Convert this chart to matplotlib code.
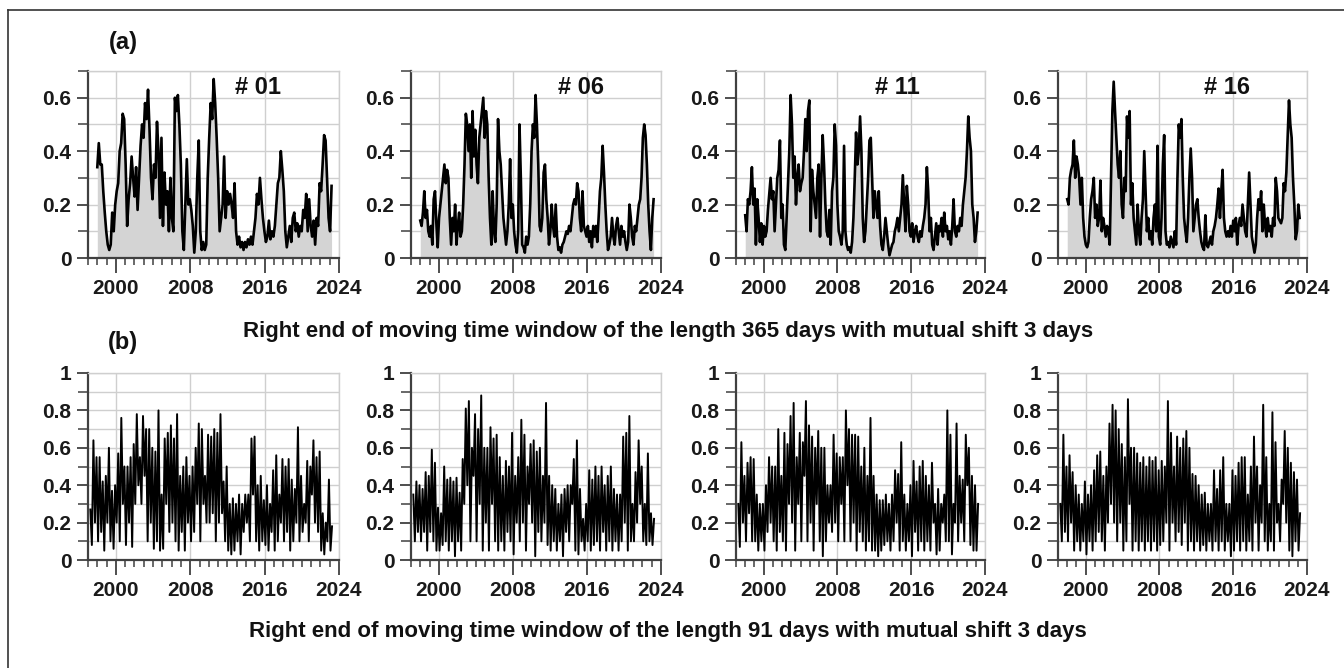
import numpy as np
import matplotlib
matplotlib.use('Agg')
import matplotlib.pyplot as plt
from matplotlib.lines import Line2D
from matplotlib.ticker import MultipleLocator

plt.rcParams['font.family'] = ['Liberation Sans', 'DejaVu Sans']

# labels
PANEL_TAGS = ['# 01', '# 06', '# 11', '# 16']
CAPTION_A = 'Right end of moving time window of the length 365 days with mutual shift 3 days'
CAPTION_B = 'Right end of moving time window of the length 91 days with mutual shift 3 days'
YEAR_TICKS = [2000, 2008, 2016, 2024]

# (a) 365-day window, right ends from 1998.0 to 2023.2
A_START, A_END = 1998.0, 2023.2
a01 = [0.34, 0.43, 0.35, 0.35, 0.25, 0.17, 0.1, 0.05, 0.03, 0.05, 0.17, 0.1, 0.2, 0.25,
       0.28, 0.4, 0.43, 0.54, 0.52, 0.35, 0.12, 0.22, 0.28, 0.38, 0.3, 0.23, 0.34, 0.18,
       0.3, 0.42, 0.5, 0.45, 0.58, 0.52, 0.63, 0.48, 0.3, 0.22, 0.35, 0.3, 0.51, 0.4, 0.15,
       0.45, 0.12, 0.32, 0.2, 0.25, 0.1, 0.3, 0.15, 0.1, 0.6, 0.55, 0.61, 0.5, 0.35, 0.1,
       0.03, 0.2, 0.37, 0.2, 0.22, 0.18, 0.12, 0.02, 0.1, 0.3, 0.44, 0.1, 0.03, 0.06, 0.03,
       0.05, 0.3, 0.45, 0.58, 0.52, 0.67,
       0.58, 0.45, 0.3, 0.1, 0.15, 0.2, 0.38, 0.15, 0.25, 0.2, 0.24, 0.2, 0.15, 0.28, 0.1,
       0.05, 0.08, 0.04, 0.06, 0.03, 0.06, 0.04, 0.07, 0.05, 0.08, 0.05, 0.1, 0.15, 0.24,
       0.2, 0.3, 0.22, 0.15, 0.1, 0.06, 0.08, 0.14, 0.07, 0.1, 0.08, 0.12, 0.2, 0.28, 0.3,
       0.4, 0.33, 0.25, 0.1, 0.04, 0.08, 0.12, 0.06, 0.15, 0.17, 0.1, 0.13, 0.08, 0.12, 0.1,
       0.18, 0.15, 0.24, 0.1, 0.22, 0.12, 0.08, 0.14, 0.05, 0.15, 0.12, 0.28, 0.25, 0.35,
       0.46, 0.44, 0.3, 0.15, 0.1, 0.27]
a06 = [0.14, 0.12, 0.17, 0.25, 0.15, 0.18, 0.1, 0.08, 0.12, 0.05, 0.22, 0.25, 0.13, 0.04,
       0.15, 0.2, 0.25, 0.3, 0.35, 0.28, 0.33, 0.3, 0.15, 0.05, 0.15, 0.1, 0.2, 0.05, 0.12,
       0.17, 0.08, 0.1, 0.2, 0.35, 0.54, 0.5, 0.4, 0.5, 0.3, 0.55, 0.38, 0.48, 0.35, 0.28,
       0.45, 0.5, 0.55, 0.6, 0.45, 0.55, 0.5, 0.3, 0.15, 0.05, 0.25, 0.1, 0.06, 0.2, 0.52,
       0.4, 0.35, 0.25, 0.15, 0.1, 0.05, 0.1, 0.2, 0.37, 0.15, 0.2, 0.1, 0.05, 0.02, 0.1,
       0.5, 0.3, 0.05, 0.04, 0.02, 0.08, 0.05, 0.08, 0.2, 0.4, 0.5, 0.45, 0.61, 0.5, 0.35,
       0.12, 0.1, 0.15, 0.32, 0.35, 0.22, 0.15, 0.05, 0.1, 0.2, 0.12, 0.08, 0.2, 0.08, 0.03,
       0.04, 0.02, 0.05, 0.06, 0.08, 0.1, 0.09, 0.12, 0.1, 0.15, 0.2, 0.22, 0.2, 0.28, 0.25,
       0.15, 0.1, 0.25, 0.12, 0.1, 0.08, 0.12, 0.06, 0.1, 0.04, 0.12, 0.08, 0.12, 0.06, 0.15,
       0.25, 0.3, 0.42, 0.32, 0.2, 0.1, 0.03, 0.05, 0.08, 0.15, 0.08, 0.05, 0.12, 0.15, 0.1,
       0.05, 0.12, 0.08, 0.1, 0.06, 0.03, 0.06, 0.2, 0.15, 0.08, 0.05, 0.12, 0.1, 0.15, 0.2,
       0.22, 0.3, 0.45, 0.5, 0.46, 0.35, 0.2, 0.1, 0.03, 0.15, 0.22]
a11 = [0.16, 0.1, 0.22, 0.2, 0.25, 0.34, 0.2, 0.26, 0.05, 0.22, 0.15, 0.06, 0.13, 0.05,
       0.12, 0.08, 0.1, 0.18, 0.24, 0.3, 0.22, 0.25, 0.1, 0.2, 0.3, 0.33, 0.44, 0.15, 0.2,
       0.05, 0.03, 0.15, 0.28, 0.4, 0.61, 0.5, 0.3, 0.38, 0.2, 0.3, 0.35, 0.25, 0.28, 0.3,
       0.4, 0.52, 0.4, 0.55, 0.59, 0.1, 0.33, 0.25, 0.2, 0.15, 0.3, 0.35, 0.08, 0.3, 0.46,
       0.35, 0.2, 0.1, 0.08, 0.18, 0.05, 0.25, 0.3, 0.5, 0.42, 0.2, 0.1, 0.08, 0.05, 0.1,
       0.42, 0.1, 0.05, 0.03, 0.04, 0.02, 0.06, 0.15, 0.3, 0.47, 0.35, 0.4, 0.53, 0.4, 0.15,
       0.06, 0.1, 0.2, 0.3, 0.44, 0.45, 0.3, 0.15, 0.25, 0.2, 0.15, 0.25, 0.12, 0.05, 0.03,
       0.08, 0.15, 0.1, 0.05, 0.01, 0.03, 0.05, 0.06, 0.1, 0.12, 0.15, 0.1, 0.15, 0.2, 0.31,
       0.2, 0.1, 0.27, 0.2, 0.1, 0.08, 0.13, 0.06, 0.1, 0.12, 0.08, 0.06, 0.1, 0.08, 0.12,
       0.15, 0.2, 0.34, 0.25, 0.1, 0.15, 0.05, 0.03, 0.08, 0.13, 0.05, 0.12, 0.1, 0.15, 0.08,
       0.17, 0.1, 0.12, 0.07, 0.1, 0.05, 0.12, 0.22, 0.1, 0.08, 0.12, 0.1, 0.15, 0.12, 0.2,
       0.25, 0.3, 0.4, 0.53, 0.45, 0.4, 0.2, 0.15, 0.06, 0.1, 0.17]
a16 = [0.22, 0.2, 0.3, 0.33, 0.35, 0.44, 0.3, 0.38, 0.35, 0.3, 0.2, 0.3, 0.15, 0.08, 0.05,
       0.04, 0.06, 0.15, 0.22, 0.25, 0.3, 0.15, 0.2, 0.12, 0.15, 0.29, 0.1, 0.15, 0.12, 0.08,
       0.12, 0.1, 0.05, 0.3, 0.55, 0.66, 0.55, 0.45, 0.35, 0.3, 0.4, 0.2, 0.15, 0.3, 0.25,
       0.53, 0.45, 0.55, 0.2, 0.28, 0.15, 0.1, 0.05, 0.2, 0.1, 0.05, 0.15, 0.22, 0.4, 0.25,
       0.1, 0.15, 0.07, 0.1, 0.05, 0.15, 0.2, 0.1, 0.42, 0.08, 0.05, 0.15, 0.35, 0.46, 0.1,
       0.05, 0.06, 0.04, 0.08, 0.06, 0.04, 0.1, 0.05, 0.3, 0.5, 0.45, 0.52, 0.3, 0.15, 0.1,
       0.06, 0.15, 0.3, 0.41, 0.3, 0.1, 0.15, 0.2, 0.22, 0.15, 0.1, 0.06, 0.04, 0.03, 0.16,
       0.05, 0.04, 0.06, 0.08, 0.05, 0.1, 0.12, 0.15, 0.2, 0.26, 0.15, 0.25, 0.33, 0.15, 0.1,
       0.08, 0.1, 0.08, 0.12, 0.08, 0.14, 0.1, 0.15, 0.05, 0.12, 0.15, 0.12, 0.2, 0.15, 0.1,
       0.08, 0.2, 0.32, 0.2, 0.08, 0.05, 0.02, 0.05, 0.15, 0.22, 0.18, 0.25, 0.1, 0.2, 0.12,
       0.08, 0.15, 0.1, 0.12, 0.08, 0.15, 0.12, 0.3, 0.25, 0.15, 0.14, 0.13, 0.15, 0.28, 0.25,
       0.32, 0.45, 0.59, 0.5, 0.45, 0.3, 0.2, 0.07, 0.1, 0.2, 0.15]

# (b) 91-day window, right ends from 1997.25 to 2023.25 (6 samples per year)
B_START, B_END = 1997.25, 2023.25
b01 = [0.27, 0.08, 0.64, 0.2, 0.55,
       0.1, 0.55, 0.15, 0.42, 0.05, 0.45,
       0.2, 0.6, 0.1, 0.37, 0.06, 0.4,
       0.2, 0.57, 0.1, 0.76, 0.3, 0.5,
       0.08, 0.5, 0.2, 0.55, 0.07, 0.62,
       0.3, 0.78, 0.4, 0.55, 0.3, 0.77,
       0.45, 0.7, 0.1, 0.7, 0.2, 0.6,
       0.06, 0.58, 0.1, 0.8, 0.05, 0.35,
       0.06, 0.65, 0.3, 0.68, 0.15, 0.72,
       0.2, 0.65, 0.1, 0.78, 0.05, 0.45,
       0.15, 0.5, 0.05, 0.55, 0.2, 0.45,
       0.1, 0.5, 0.15, 0.6, 0.3, 0.73,
       0.1, 0.7, 0.3, 0.45, 0.2, 0.67,
       0.2, 0.66, 0.25, 0.7, 0.1, 0.68,
       0.2, 0.78, 0.25, 0.42, 0.1, 0.5,
       0.05, 0.3, 0.03, 0.33, 0.05, 0.3,
       0.1, 0.35, 0.03, 0.3, 0.15, 0.35,
       0.2, 0.35, 0.1, 0.65, 0.35, 0.66,
       0.1, 0.4, 0.05, 0.45, 0.1, 0.32,
       0.08, 0.4, 0.05, 0.3, 0.15, 0.48,
       0.05, 0.56, 0.1, 0.35, 0.2, 0.54,
       0.1, 0.5, 0.15, 0.54, 0.05, 0.43,
       0.1, 0.38, 0.2, 0.71, 0.1, 0.45,
       0.15, 0.3, 0.2, 0.53, 0.1, 0.5,
       0.35, 0.64, 0.2, 0.55, 0.15, 0.58,
       0.05, 0.25, 0.03, 0.2, 0.1, 0.43,
       0.05, 0.18]
b06 = [0.35, 0.1, 0.42, 0.15, 0.4,
       0.1, 0.38, 0.15, 0.47, 0.05, 0.45,
       0.15, 0.59, 0.1, 0.52, 0.05, 0.28,
       0.05, 0.25, 0.08, 0.5, 0.1, 0.43,
       0.05, 0.44, 0.1, 0.42, 0.02, 0.44,
       0.1, 0.36, 0.05, 0.54, 0.3, 0.81,
       0.4, 0.85, 0.1, 0.6, 0.45, 0.78,
       0.1, 0.7, 0.3, 0.88, 0.05, 0.6,
       0.2, 0.6, 0.05, 0.71, 0.3, 0.65,
       0.1, 0.67, 0.05, 0.55, 0.1, 0.45,
       0.05, 0.53, 0.15, 0.5, 0.1, 0.68,
       0.03, 0.45, 0.2, 0.55, 0.1, 0.75,
       0.2, 0.67, 0.05, 0.5, 0.3, 0.62,
       0.2, 0.64, 0.02, 0.58, 0.15, 0.6,
       0.1, 0.45, 0.2, 0.84, 0.08, 0.45,
       0.05, 0.4, 0.1, 0.38, 0.05, 0.3,
       0.1, 0.35, 0.02, 0.38, 0.15, 0.4,
       0.1, 0.4, 0.3, 0.54, 0.05, 0.64,
       0.03, 0.38, 0.1, 0.22, 0.05, 0.3,
       0.1, 0.48, 0.05, 0.43, 0.08, 0.5,
       0.1, 0.45, 0.05, 0.5, 0.15, 0.4,
       0.05, 0.45, 0.1, 0.5, 0.05, 0.38,
       0.1, 0.35, 0.05, 0.35, 0.1, 0.66,
       0.2, 0.68, 0.05, 0.77, 0.1, 0.3,
       0.1, 0.47, 0.2, 0.64, 0.3, 0.5,
       0.1, 0.3, 0.08, 0.57, 0.1, 0.25,
       0.08, 0.22]
b11 = [0.3, 0.07, 0.63, 0.2, 0.45,
       0.1, 0.52, 0.25, 0.55, 0.1, 0.54,
       0.1, 0.35, 0.05, 0.3, 0.1, 0.3,
       0.05, 0.4, 0.15, 0.55, 0.2, 0.5,
       0.1, 0.5, 0.05, 0.7, 0.15, 0.45,
       0.1, 0.68, 0.05, 0.62, 0.3, 0.77,
       0.2, 0.84, 0.05, 0.55, 0.3, 0.68,
       0.1, 0.63, 0.45, 0.85, 0.1, 0.72,
       0.2, 0.66, 0.05, 0.6, 0.3, 0.69,
       0.1, 0.6, 0.02, 0.6, 0.1, 0.4,
       0.2, 0.4, 0.15, 0.67, 0.2, 0.57,
       0.1, 0.55, 0.3, 0.55, 0.1, 0.8,
       0.4, 0.7, 0.1, 0.67, 0.2, 0.67,
       0.05, 0.66, 0.15, 0.5, 0.1, 0.6,
       0.05, 0.45, 0.1, 0.76, 0.05, 0.45,
       0.05, 0.35, 0.02, 0.32, 0.05, 0.32,
       0.08, 0.35, 0.1, 0.3, 0.05, 0.35,
       0.1, 0.48, 0.2, 0.46, 0.05, 0.63,
       0.1, 0.35, 0.05, 0.3, 0.1, 0.4,
       0.02, 0.53, 0.15, 0.42, 0.05, 0.5,
       0.1, 0.53, 0.05, 0.45, 0.1, 0.4,
       0.05, 0.52, 0.2, 0.3, 0.03, 0.38,
       0.05, 0.3, 0.2, 0.35, 0.1, 0.8,
       0.1, 0.67, 0.03, 0.3, 0.2, 0.73,
       0.1, 0.45, 0.2, 0.43, 0.1, 0.67,
       0.4, 0.6, 0.08, 0.45, 0.05, 0.4,
       0.05, 0.3]
b16 = [0.3, 0.1, 0.67, 0.15, 0.5,
       0.1, 0.56, 0.2, 0.47, 0.05, 0.4,
       0.1, 0.35, 0.05, 0.3, 0.1, 0.42,
       0.03, 0.35, 0.1, 0.4, 0.05, 0.48,
       0.1, 0.56, 0.15, 0.58, 0.1, 0.45,
       0.05, 0.5, 0.2, 0.73, 0.3, 0.83,
       0.2, 0.8, 0.1, 0.7, 0.2, 0.62,
       0.05, 0.55, 0.1, 0.86, 0.3, 0.6,
       0.05, 0.6, 0.1, 0.57, 0.05, 0.52,
       0.1, 0.55, 0.05, 0.5, 0.1, 0.55,
       0.05, 0.53, 0.1, 0.55, 0.05, 0.48,
       0.08, 0.53, 0.1, 0.5, 0.2, 0.85,
       0.05, 0.68, 0.2, 0.5, 0.1, 0.66,
       0.15, 0.6, 0.08, 0.65, 0.2, 0.69,
       0.05, 0.6, 0.1, 0.46, 0.05, 0.45,
       0.1, 0.4, 0.05, 0.35, 0.08, 0.36,
       0.05, 0.3, 0.1, 0.3, 0.05, 0.48,
       0.1, 0.38, 0.05, 0.48, 0.1, 0.55,
       0.05, 0.3, 0.1, 0.3, 0.02, 0.48,
       0.05, 0.45, 0.1, 0.52, 0.05, 0.55,
       0.1, 0.55, 0.05, 0.35, 0.1, 0.5,
       0.05, 0.66, 0.2, 0.5, 0.05, 0.4,
       0.2, 0.83, 0.1, 0.55, 0.05, 0.3,
       0.1, 0.79, 0.05, 0.63, 0.2, 0.3,
       0.1, 0.43, 0.3, 0.69, 0.2, 0.6,
       0.05, 0.52, 0.02, 0.47, 0.1, 0.43,
       0.05, 0.25]

TOP_SERIES = [a01, a06, a11, a16]
BOT_SERIES = [b01, b06, b11, b16]

W, H = 1344, 668
fig = plt.figure(figsize=(W / 100, H / 100), dpi=100)

lefts = [88, 411, 736, 1058]
widths = [251, 250, 249, 249]
tag_x = [0.677, 0.68, 0.647, 0.679]


def style_axes(ax, ymax, ymajor):
    ax.set_xlim(1997, 2024)
    ax.set_ylim(0, ymax)
    ax.set_xticks(YEAR_TICKS)
    ax.xaxis.set_minor_locator(MultipleLocator(1))
    ax.yaxis.set_major_locator(MultipleLocator(ymajor))
    ax.yaxis.set_minor_locator(MultipleLocator(0.1))
    ax.yaxis.set_major_formatter(plt.FuncFormatter(lambda v, p: '%g' % round(v, 2)))
    ax.grid(True, which='major', axis='x', color='#cfcfcf', lw=1)
    ax.grid(True, which='both', axis='y', color='#cfcfcf', lw=1)
    ax.set_axisbelow(True)
    for s in ['top', 'right']:
        ax.spines[s].set_color('#cfcfcf')
        ax.spines[s].set_linewidth(1)
    for s in ['left', 'bottom']:
        ax.spines[s].set_color('#404040')
        ax.spines[s].set_linewidth(1.6)
    ax.tick_params(axis='x', which='major', length=11, width=1.3, color='#404040',
                   direction='out', pad=4, labelsize=15)
    ax.tick_params(axis='x', which='minor', length=5, width=1.1, color='#404040',
                   direction='out')
    ax.tick_params(axis='y', which='major', length=8, width=1.3, color='#404040',
                   direction='out', pad=4, labelsize=15)
    ax.tick_params(axis='y', which='minor', length=7, width=1.1, color='#404040',
                   direction='out')
    for lab in ax.get_xticklabels() + ax.get_yticklabels():
        lab.set_fontweight('bold')
        lab.set_color('#1a1a1a')


for i in range(4):
    # row (a)
    ax = fig.add_axes([lefts[i] / W, 1 - 258 / H, widths[i] / W, 187 / H])
    vals = np.array(TOP_SERIES[i])
    t = np.linspace(A_START, A_END, len(vals))
    ax.fill_between(t, 0, vals, color='#d4d4d4', lw=0)
    ax.plot(t, vals, color='black', lw=1.9)
    style_axes(ax, 0.7, 0.2)
    ax.text(tag_x[i], 0.914, PANEL_TAGS[i], transform=ax.transAxes, ha='center',
            va='center', fontsize=17, fontweight='bold', color='#111111')

    # row (b)
    ax = fig.add_axes([lefts[i] / W, 1 - 560 / H, widths[i] / W, 187 / H])
    vals = np.array(BOT_SERIES[i])
    t = np.linspace(B_START, B_END, len(vals))
    ax.plot(t, vals, color='black', lw=1.4)
    style_axes(ax, 1.0, 0.2)

fig.text(123 / W, 1 - 43 / H, '(a)', ha='center', va='center', fontsize=17,
         fontweight='bold', color='#111111')
fig.text(123 / W, 1 - 342 / H, '(b)', ha='center', va='center', fontsize=17,
         fontweight='bold', color='#111111')
fig.text(668 / W, 1 - 331 / H, CAPTION_A, ha='center', va='center', fontsize=16,
         fontweight='bold', color='#111111')
fig.text(668 / W, 1 - 632 / H, CAPTION_B, ha='center', va='center', fontsize=16,
         fontweight='bold', color='#111111')

# outer frame (top and left edges)
fig.add_artist(Line2D([8 / W, 1], [1 - 10 / H, 1 - 10 / H], color='#333333', lw=1.2))
fig.add_artist(Line2D([8 / W, 8 / W], [0, 1 - 10 / H], color='#333333', lw=1.2))

fig.savefig('out.png', dpi=100)
